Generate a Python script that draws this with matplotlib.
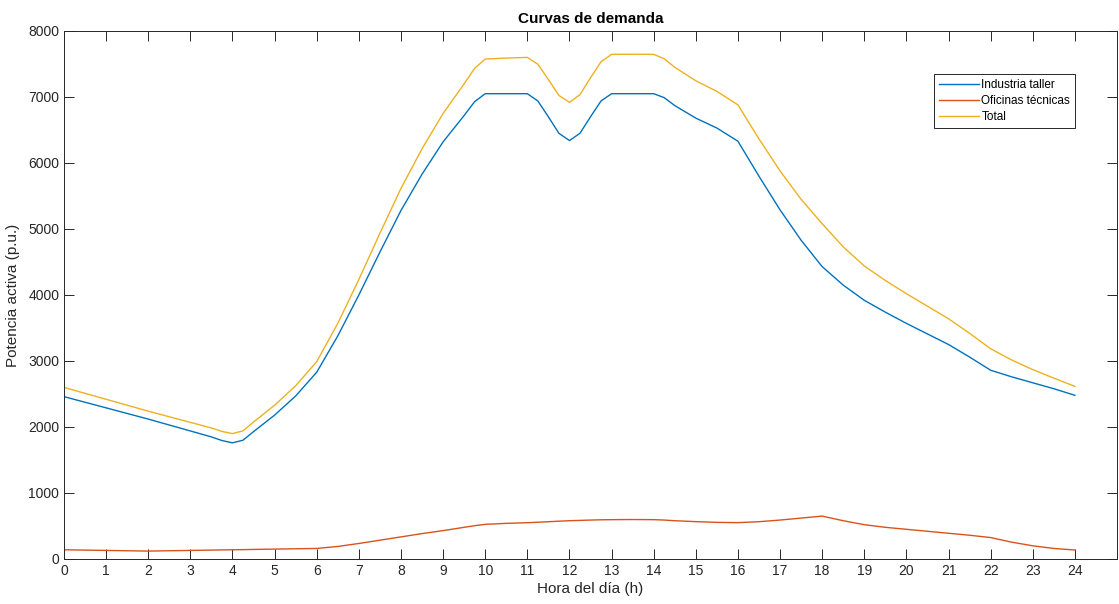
import matplotlib
matplotlib.use("Agg")
import matplotlib.pyplot as plt

plt.rcParams.update({
    "font.family": ["Liberation Sans", "DejaVu Sans"],
    "font.size": 10,
    "axes.linewidth": 0.7,
})

# hora del dia (mas puntos donde la curva se dobla)
hours = [
    0, 0.5, 1, 1.5, 2, 2.5, 3, 3.5, 3.75, 4, 4.25, 4.5,
    5, 5.5, 6, 6.5, 7, 7.5, 8, 8.5, 9, 9.5, 9.75, 10, 10.5, 11,
    11.25, 11.5, 11.75, 12, 12.25, 12.5, 12.75, 13, 13.5, 14, 14.25, 14.5,
    15, 15.5, 16, 16.5, 17, 17.5, 18, 18.5, 19, 19.5, 20, 20.5,
    21, 21.5, 22, 22.5, 23, 23.5, 24,
]
industria = [
    2460, 2375, 2290, 2205, 2120, 2030, 1940, 1850, 1795, 1760, 1800, 1930,
    2180, 2470, 2830, 3380, 4000, 4650, 5280, 5830, 6320, 6720, 6930, 7050, 7050, 7050,
    6940, 6700, 6450, 6340, 6450, 6700, 6940, 7050, 7050, 7050, 6990, 6870,
    6680, 6530, 6330, 5800, 5290, 4830, 4430, 4150, 3920, 3740, 3570, 3410,
    3250, 3060, 2860, 2760, 2670, 2580, 2480,
]
oficinas = [
    140, 135, 130, 125, 120, 125, 130, 135, 138, 140, 142, 145,
    150, 155, 160, 190, 235, 285, 335, 385, 430, 480, 505, 525, 540, 550,
    557, 565, 573, 580, 585, 590, 594, 596, 598, 596, 590, 580,
    566, 555, 551, 565, 590, 620, 650, 580, 520, 480, 450, 420,
    390, 360, 325, 255, 200, 160, 136,
]
total = [a + b for a, b in zip(industria, oficinas)]

labels = ["Industria taller", "Oficinas técnicas", "Total"]
colors = ["#0072BD", "#D95319", "#EDB120"]

fig = plt.figure(figsize=(11.19, 6.04), dpi=100)
ax = fig.add_axes([64 / 1119, 1 - 559 / 604, 1053 / 1119, 528 / 604])

for ys, lab, c in zip([industria, oficinas, total], labels, colors):
    ax.plot(hours, ys, color=c, lw=1.0, label=lab)

ax.set_xlim(0, 25)
ax.set_ylim(0, 8000)
ax.set_xticks(range(0, 25))
ax.set_yticks(range(0, 8001, 1000))
ax.tick_params(direction="in", length=7, width=0.7, top=True, right=True,
               colors="#262626", labelcolor="#262626", labelsize=10)
for s in ax.spines.values():
    s.set_color("#262626")

ax.set_xlabel("Hora del día (h)", fontsize=11, color="#262626", labelpad=3)
ax.set_ylabel("Potencia activa (p.u.)", fontsize=11, color="#262626", labelpad=6)
ax.set_title("Curvas de demanda", fontsize=11, fontweight="bold", pad=6)

leg = ax.legend(loc="upper right", bbox_to_anchor=(0.960, 0.9186), fontsize=8.5,
                fancybox=False, framealpha=1, edgecolor="#262626",
                handlelength=3.4, borderpad=0.4, labelspacing=0.35,
                handletextpad=0.2, borderaxespad=0)
leg.get_frame().set_linewidth(0.7)

fig.savefig("out.png", dpi=100)
